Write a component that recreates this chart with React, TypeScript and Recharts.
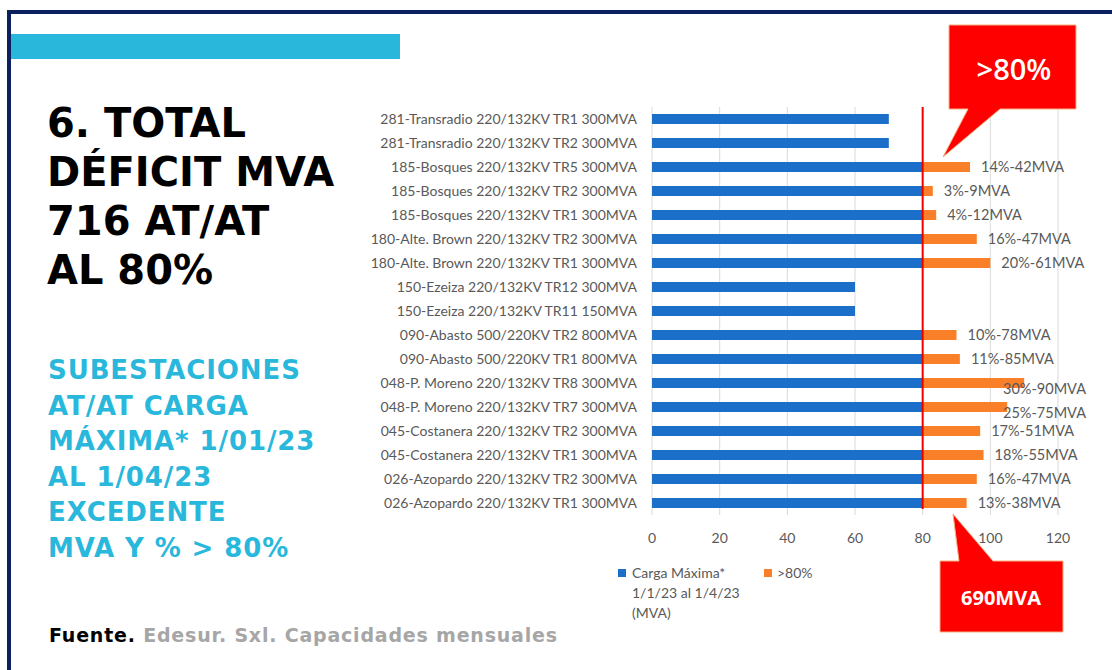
import React from "react";
import {
  BarChart,
  Bar,
  XAxis,
  YAxis,
  CartesianGrid,
  ReferenceLine,
  LabelList,
} from "recharts";

const BLUE = "#1c6fc8";
const ORANGE = "#f98028";
const RED = "#f00000";
const NAVY = "#0c1f5f";
const CYAN = "#29b8dc";
const GREY_TEXT = "#595959";

// categories, top to bottom
const subestaciones = [
  "281-Transradio 220/132KV TR1 300MVA",
  "281-Transradio 220/132KV TR2 300MVA",
  "185-Bosques 220/132KV TR5 300MVA",
  "185-Bosques 220/132KV TR2 300MVA",
  "185-Bosques 220/132KV TR1 300MVA",
  "180-Alte. Brown 220/132KV TR2 300MVA",
  "180-Alte. Brown 220/132KV TR1 300MVA",
  "150-Ezeiza 220/132KV TR12 300MVA",
  "150-Ezeiza 220/132KV TR11 150MVA",
  "090-Abasto 500/220KV TR2 800MVA",
  "090-Abasto 500/220KV TR1 800MVA",
  "048-P. Moreno 220/132KV TR8 300MVA",
  "048-P. Moreno 220/132KV TR7 300MVA",
  "045-Costanera 220/132KV TR2 300MVA",
  "045-Costanera 220/132KV TR1 300MVA",
  "026-Azopardo 220/132KV TR2 300MVA",
  "026-Azopardo 220/132KV TR1 300MVA",
];

// carga hasta el 80% (azul)
const cargaMaxima = [70, 70, 80, 80, 80, 80, 80, 60, 60, 80, 80, 80, 80, 80, 80, 80, 80];

// excedente por encima del 80% (naranja)
const excedente = [0, 0, 14, 3, 4, 16, 20, 0, 0, 10, 11, 30, 25, 17, 18, 16, 13];

const etiquetas = [
  "", "", "14%-42MVA", "3%-9MVA", "4%-12MVA", "16%-47MVA", "20%-61MVA", "", "",
  "10%-78MVA", "11%-85MVA", "30%-90MVA", "25%-75MVA", "17%-51MVA", "18%-55MVA",
  "16%-47MVA", "13%-38MVA",
];

const xTicks = [0, 20, 40, 60, 80, 100, 120];

const data = subestaciones.map((name, i) => ({
  name,
  carga: cargaMaxima[i],
  exceso: excedente[i],
  etiqueta: etiquetas[i],
}));

const FONT = "Lato, 'Open Sans', sans-serif";
const HEAD_FONT = "'DejaVu Sans', sans-serif";
const LABEL_MAX_X = 643; // labels that would run off the slide are pulled back onto the bar

function ExcesoLabel(props: any) {
  const { x, y, width, height, value } = props;
  if (!value) return null;
  const end = Number(x) + Number(width) + 11;
  const clamped = end > LABEL_MAX_X;
  return (
    <text
      x={clamped ? LABEL_MAX_X : end}
      y={Number(y) + Number(height) / 2}
      dy={clamped ? 11 : 5}
      fill={GREY_TEXT}
      fontSize={14.5}
      fontFamily={FONT}
    >
      {value}
    </text>
  );
}

function RedLine(props: any) {
  const { x1, y1, x2, y2 } = props;
  return <line x1={x1} y1={y1 - 6} x2={x2} y2={y2} stroke={RED} strokeWidth={2} />;
}

function Callout({ top }: { top: boolean }) {
  // speech-bubble boxes drawn as plain svg over the slide
  if (top) {
    return (
      <svg
        width={140}
        height={140}
        style={{ position: "absolute", left: 940, top: 22 }}
      >
        <path
          d="M9 3 H136 V87 H60 L3 135 L28 87 H9 Z"
          fill="#ff0000"
          stroke="#f4b183"
          strokeWidth={1}
        />
        <text
          x={74}
          y={58}
          textAnchor="middle"
          fill="#fff"
          fontSize={29}
          fontWeight={600}
          fontFamily="'Open Sans', sans-serif"
        >
          &gt;80%
        </text>
      </svg>
    );
  }
  return (
    <svg width={130} height={125} style={{ position: "absolute", left: 937, top: 512 }}>
      <path
        d="M3 49 H22 L16 2 L56 49 H126 V120 H3 Z"
        fill="#ff0000"
        stroke="#f4b183"
        strokeWidth={1}
      />
      <text
        x={64}
        y={93}
        textAnchor="middle"
        fill="#fff"
        fontSize={20}
        fontWeight={700}
        fontFamily="'Open Sans', sans-serif"
      >
        690MVA
      </text>
    </svg>
  );
}

export default function App() {
  const titleStyle: React.CSSProperties = {
    position: "absolute",
    left: 47,
    top: 99,
    margin: 0,
    fontFamily: HEAD_FONT,
    fontWeight: 700,
    fontSize: 40,
    lineHeight: "49px",
    color: "#000",
    whiteSpace: "nowrap",
  };
  const subStyle: React.CSSProperties = {
    position: "absolute",
    left: 48,
    top: 353,
    margin: 0,
    fontFamily: HEAD_FONT,
    fontWeight: 700,
    fontSize: 26,
    lineHeight: "35.5px",
    letterSpacing: 0.9,
    color: CYAN,
    whiteSpace: "nowrap",
  };

  return (
    <div
      style={{
        position: "absolute",
        left: 0,
        top: 0,
        width: 1112,
        height: 670,
        background: "#fff",
        overflow: "hidden",
      }}
    >
      {/* slide frame */}
      <div style={{ position: "absolute", left: 7, top: 10, width: 1105, height: 4, background: NAVY }} />
      <div style={{ position: "absolute", left: 7, top: 10, width: 4, height: 660, background: NAVY }} />
      <div style={{ position: "absolute", left: 11, top: 34, width: 389, height: 25, background: CYAN }} />

      <div style={titleStyle}>
        6. TOTAL
        <br />
        DÉFICIT MVA
        <br />
        716 AT/AT
        <br />
        AL 80%
      </div>

      <div style={subStyle}>
        SUBESTACIONES
        <br />
        AT/AT CARGA
        <br />
        MÁXIMA* 1/01/23
        <br />
        AL 1/04/23
        <br />
        EXCEDENTE
        <br />
        MVA Y % &gt; 80%
      </div>

      <div
        style={{
          position: "absolute",
          left: 49,
          top: 624,
          fontFamily: HEAD_FONT,
          fontWeight: 700,
          fontSize: 19,
          letterSpacing: 0.8,
          whiteSpace: "nowrap",
        }}
      >
        <span style={{ color: "#000" }}>Fuente.</span>{" "}
        <span style={{ color: "#a6a6a6" }}>Edesur. Sxl. Capacidades mensuales</span>
      </div>

      <div style={{ position: "absolute", left: 360, top: 95 }}>
        <BarChart
          width={740}
          height={470}
          data={data}
          layout="vertical"
          barSize={10}
          margin={{ top: 12, right: 42, bottom: 20, left: 0 }}
        >
          <CartesianGrid horizontal={false} stroke="#d9d9d9" />
          <XAxis
            type="number"
            domain={[0, 120]}
            ticks={xTicks}
            axisLine={false}
            tickLine={false}
            tickMargin={12}
            tick={{ fill: GREY_TEXT, fontSize: 14, fontFamily: FONT }}
          />
          <YAxis
            type="category"
            dataKey="name"
            width={292}
            axisLine={false}
            tickLine={false}
            tickMargin={9}
            interval={0}
            tick={{ fill: GREY_TEXT, fontSize: 14, fontFamily: FONT }}
          />
          <Bar dataKey="carga" stackId="a" fill={BLUE} isAnimationActive={false} />
          <Bar dataKey="exceso" stackId="a" fill={ORANGE} isAnimationActive={false}>
            <LabelList dataKey="etiqueta" content={<ExcesoLabel />} />
          </Bar>
          <ReferenceLine x={80} shape={<RedLine />} ifOverflow="visible" />
        </BarChart>
      </div>

      {/* legend */}
      <div
        style={{
          position: "absolute",
          left: 618,
          top: 563,
          fontFamily: FONT,
          fontSize: 14,
          lineHeight: "20px",
          color: GREY_TEXT,
          display: "flex",
        }}
      >
        <div style={{ display: "flex", width: 146 }}>
          <span style={{ width: 8, height: 8, background: BLUE, marginTop: 6, marginRight: 6, flex: "none" }} />
          <span>
            Carga Máxima*
            <br />
            1/1/23 al 1/4/23
            <br />
            (MVA)
          </span>
        </div>
        <div style={{ display: "flex" }}>
          <span style={{ width: 8, height: 8, background: ORANGE, marginTop: 6, marginRight: 5, flex: "none" }} />
          <span>&gt;80%</span>
        </div>
      </div>

      <Callout top={true} />
      <Callout top={false} />
    </div>
  );
}
